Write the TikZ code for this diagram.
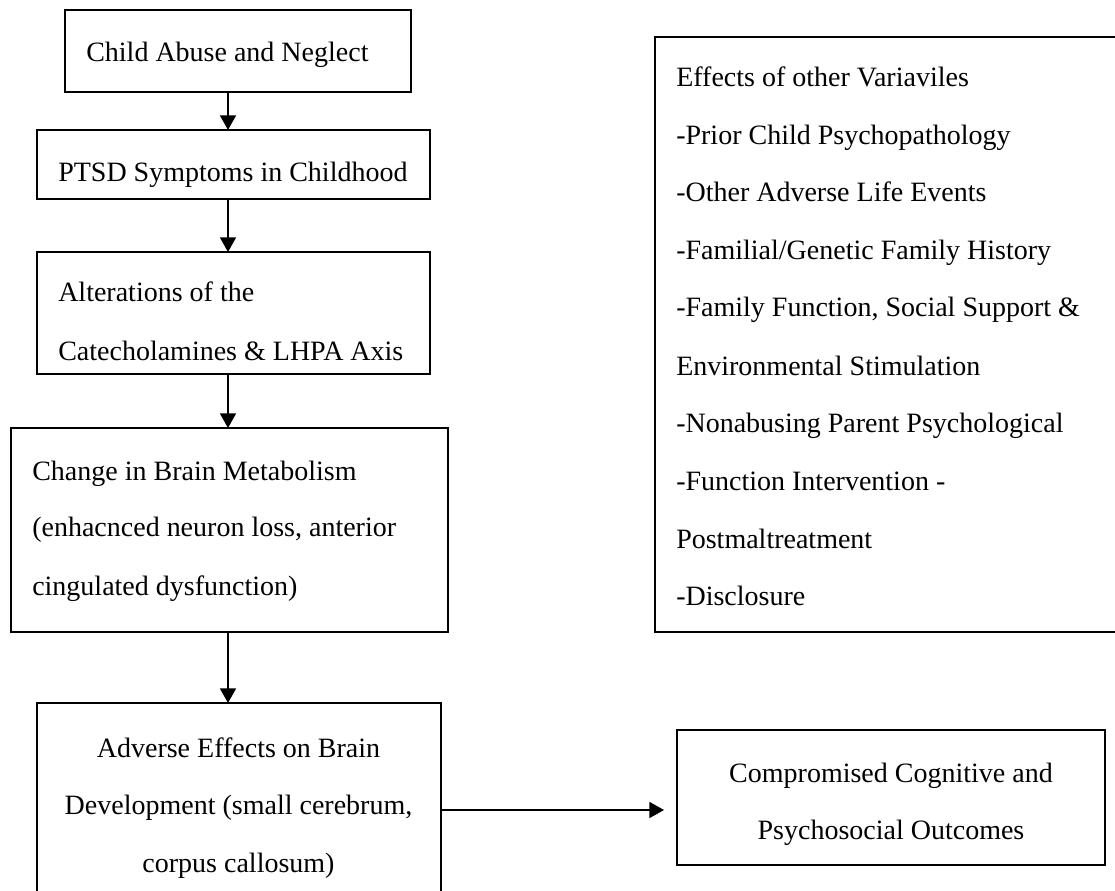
\documentclass[tikz,border=0pt]{standalone}
\usepackage{fontspec}
\setmainfont{Liberation Serif}
\usetikzlibrary{arrows.meta}
\begin{document}
\begin{tikzpicture}[x=0.75pt,y=-0.75pt,
  box/.style={draw, line width=1.4pt, rectangle, inner sep=0pt, outer sep=0pt, anchor=north west},
  txt/.style={inner sep=0pt, anchor=base west, font=\fontsize{21pt}{25pt}\selectfont},
  ctxt/.style={txt, anchor=base},
  arr/.style={line width=1.4pt, -{Triangle[length=11pt,width=12pt]}}]
\useasboundingbox (0,0) rectangle (1115,891);
\clip (0,0) rectangle (1115,891);
% boxes
\node[box, minimum width=259.5pt, minimum height=61.5pt] (b1) at (65,10) {};
\node[box, minimum width=294.75pt, minimum height=51.75pt] (b2) at (37,130) {};
\node[box, minimum width=294.75pt, minimum height=91.5pt] (b3) at (37,252) {};
\node[box, minimum width=327.75pt, minimum height=153pt] (b4) at (11,428) {};
\node[box, minimum width=303pt, minimum height=165pt] (b5) at (37,703) {};
\node[box, minimum width=360pt, minimum height=446.25pt] (rb) at (655,37) {};
\node[box, minimum width=321pt, minimum height=101.25pt] (cmp) at (677,730) {};
% texts
\node[txt] (t1) at (86,62) {Child Abuse and Neglect};
\node[txt] (t2) at (58,182) {PTSD Symptoms in Childhood};
\node[txt] (t3a) at (58,302) {Alterations of the};
\node[txt] (t3b) at (58,361) {Catecholamines \& LHPA Axis};
\node[txt] (t4a) at (32,480) {Change in Brain Metabolism};
\node[txt] (t4b) at (32,537) {(enhacnced neuron loss, anterior};
\node[txt] (t4c) at (32,595) {cingulated dysfunction)};
\node[ctxt] (t5a) at (238.5,757) {Adverse Effects on Brain};
\node[ctxt] (t5b) at (238.5,814) {Development (small cerebrum,};
\node[ctxt] (t5c) at (238.5,872) {corpus callosum)};
\node[txt] (r1) at (676,87) {Effects of other Variaviles};
\node[txt] (r2) at (676,145) {-Prior Child Psychopathology};
\node[txt] (r3) at (676,202) {-Other Adverse Life Events};
\node[txt] (r4) at (676,260) {-Familial/Genetic Family History};
\node[txt] (r5) at (676,317) {-Family Function, Social Support \&};
\node[txt] (r6) at (676,376) {Environmental Stimulation};
\node[txt] (r7) at (676,433) {-Nonabusing Parent Psychological};
\node[txt] (r8) at (676,491) {-Function Intervention -};
\node[txt] (r9) at (676,548) {Postmaltreatment};
\node[txt] (r10) at (676,605) {-Disclosure};
\node[ctxt] (c1) at (891,782) {Compromised Cognitive and};
\node[ctxt] (c2) at (891,839) {Psychosocial Outcomes};
% connectors
\coordinate (ax) at (228,0);
\coordinate (hy) at (0,810);
\draw[arr] (ax |- b1.south) -- (ax |- b2.north);
\draw[arr] (ax |- b2.south) -- (ax |- b3.north);
\draw[arr] (ax |- b3.south) -- (ax |- b4.north);
\draw[arr] (ax |- b4.south) -- (ax |- b5.north);
\draw[arr, shorten >=9.75pt] (b5.east |- hy) -- (cmp.west |- hy);
\end{tikzpicture}
\end{document}
